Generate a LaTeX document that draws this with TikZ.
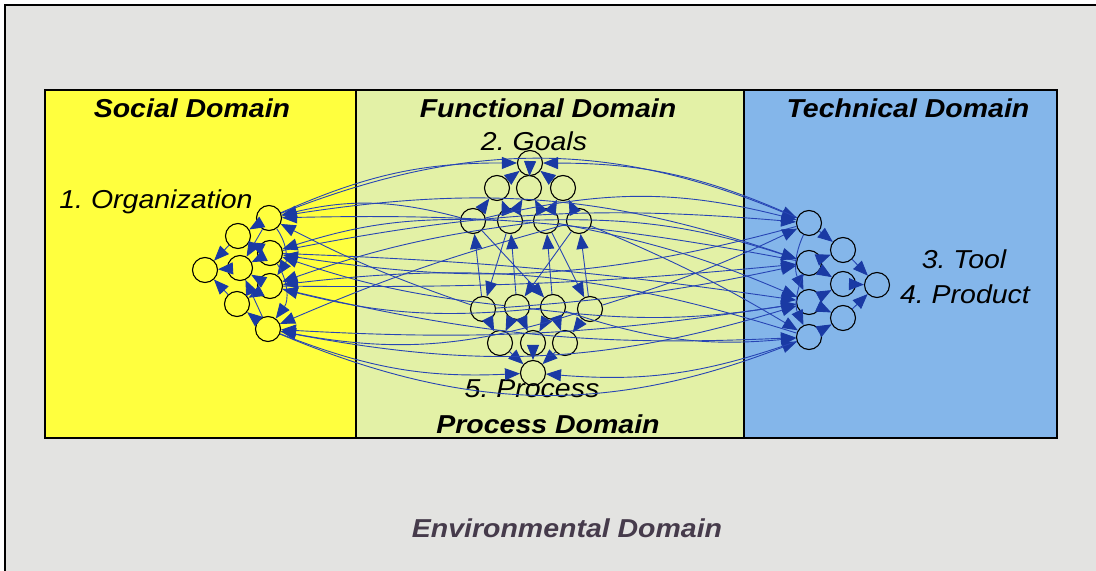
\documentclass[tikz,border=0pt]{standalone}
\usepackage{fontspec}
\setmainfont[FakeStretch=1.1]{Liberation Sans}
\usetikzlibrary{arrows.meta}
\definecolor{envbg}{HTML}{E3E3E1}
\definecolor{socialc}{HTML}{FFFF3E}
\definecolor{funcc}{HTML}{E3F1A6}
\definecolor{techc}{HTML}{84B6EA}
\definecolor{edgeblue}{HTML}{2745B4}
\definecolor{headblue}{HTML}{1A3AA4}
\definecolor{envtext}{HTML}{463B4B}
\tikzset{
  circ/.style={circle, draw=black, line width=1.1bp, minimum size=25bp, inner sep=0pt},
  conn/.style={draw=edgeblue, line width=0.9bp, -{Triangle[length=15bp,width=12bp,fill=headblue,color=headblue]}},
  dtitle/.style={font=\fontsize{26}{30}\selectfont\bfseries\itshape, inner sep=0pt},
  lbl/.style={font=\fontsize{26}{30}\selectfont\itshape, inner sep=0pt},
}
\frenchspacing
\begin{document}
\frenchspacing
\begin{tikzpicture}[x=1bp,y=-1bp]
\useasboundingbox (0,0) rectangle (1096,571);
\fill[white] (0,0) rectangle (1096,571);
\fill[envbg] (5,5) rectangle (1096,571);
\draw[line width=1.6bp] (5,571) -- (5,5) -- (1096,5);
% domains
\fill[socialc] (45,90) rectangle (356,438);
\fill[funcc] (356,90) rectangle (744,438);
\fill[techc] (744,90) rectangle (1057,438);
\draw[line width=1.4bp] (45,90) rectangle (1057,438);
\draw[line width=1.1bp] (356,90) -- (356,438);
\draw[line width=1.1bp] (744,90) -- (744,438);
% titles
\node[dtitle] (tsoc) at (192,108) {Social Domain};
\node[dtitle] (tfun) at (548,108) {Functional Domain};
\node[dtitle] (ttec) at (908,108) {Technical Domain};
\node[dtitle] (tpro) at (548,424) {Process Domain};
\node[dtitle, text=envtext] (tenv) at (567,528) {Environmental Domain};
\node[lbl] (lgoal) at (534,141) {2. Goals};
\node[lbl] (lorg) at (156,202) {1. Organization};
\node[lbl] (ltool) at (964,259) {3. Tool};
\node[lbl] (lprod) at (965,294) {4. Product};
\node[lbl] (lproc) at (532,389) {5. Process};
% left cluster
\node[circ] (L1) at (205,270) {};
\node[circ] (L2) at (238,236) {};
\node[circ] (L3) at (240,268) {};
\node[circ] (L4) at (237,304) {};
\node[circ] (L5) at (269,218) {};
\node[circ] (L6) at (270,253) {};
\node[circ] (L7) at (270,286) {};
\node[circ] (L8) at (268,329) {};
% goals cluster
\node[circ] (G1) at (530,163) {};
\node[circ] (G2) at (497,188) {};
\node[circ] (G3) at (529,188) {};
\node[circ] (G4) at (563,188) {};
\node[circ] (G5) at (473,221) {};
\node[circ] (G6) at (510,221) {};
\node[circ] (G7) at (546,221) {};
\node[circ] (G8) at (579,221) {};
% process cluster
\node[circ] (P1) at (483,309) {};
\node[circ] (P2) at (517,307) {};
\node[circ] (P3) at (553,307) {};
\node[circ] (P4) at (590,309) {};
\node[circ] (P5) at (500,343) {};
\node[circ] (P6) at (533,343) {};
\node[circ] (P7) at (565,343) {};
\node[circ] (P8) at (533,373) {};
% right cluster
\node[circ] (R1) at (809,223) {};
\node[circ] (R2) at (843,250) {};
\node[circ] (R3) at (809,263) {};
\node[circ] (R4) at (843,284) {};
\node[circ] (R5) at (877,285) {};
\node[circ] (R6) at (809,302) {};
\node[circ] (R7) at (843,318) {};
\node[circ] (R8) at (809,337) {};
% internal edges
\foreach \a/\b in {L2/L1,L3/L1,L4/L1,L5/L2,L6/L2,L6/L3,L7/L3,L7/L4,L8/L4,L5/L3,L8/L3,
  G2/G1,G3/G1,G4/G1,G5/G2,G6/G2,G6/G3,G7/G3,G7/G4,G8/G4,
  P5/P8,P6/P8,P7/P8,P1/P5,P2/P5,P2/P6,P3/P6,P3/P7,P4/P7,
  R2/R5,R4/R5,R7/R5,R1/R2,R3/R2,R3/R4,R6/R4,R6/R7,R8/R7}
  \draw[conn] (\a) -- (\b);
\draw[conn] (L5) to[bend left=35] (L7);
\draw[conn] (L6) to[bend left=35] (L8);
\draw[conn] (R1) to[bend right=25] (R6);
\draw[conn] (R3) to[bend right=25] (R8);
% long edges left -> right
\foreach \a/\b/\k in {L5/R1/22,L5/R3/14,L6/R1/8,L6/R6/3,L7/R3/-3,L7/R8/-8,L8/R6/-14,L8/R8/-22}
  \draw[conn] (\a) to[bend left=\k] (\b);
% long edges right -> left
\foreach \a/\b/\k in {R1/L6/-12,R3/L5/6,R6/L8/-6,R8/L7/12}
  \draw[conn] (\a) to[bend right=\k] (\b);
% goals / process to left
\foreach \a/\b/\k in {G5/L5/14,G6/L6/10,G7/L7/6,G8/L8/4,P1/L5/-4,P2/L6/-6,P3/L7/-10,P4/L8/-14}
  \draw[conn] (\a) to[bend right=\k] (\b);
% goals / process to right
\foreach \a/\b/\k in {G5/R1/14,G6/R3/10,G7/R6/6,G8/R8/4,P1/R3/-4,P2/R6/-8,P3/R8/-12,P4/R1/-4}
  \draw[conn] (\a) to[bend left=\k] (\b);
% into goals root and process root from the sides
\draw[conn] (L5) to[bend left=12] (G1);
\draw[conn] (R1) to[bend right=12] (G1);
\draw[conn] (L8) to[bend right=12] (P8);
\draw[conn] (R8) to[bend left=12] (P8);
% between goals and process
\foreach \a/\b in {P1/G5,P2/G6,P3/G7,P4/G8,G6/P1,G7/P4,G8/P2,G5/P3}
  \draw[conn] (\a) -- (\b);
\end{tikzpicture}
\end{document}
